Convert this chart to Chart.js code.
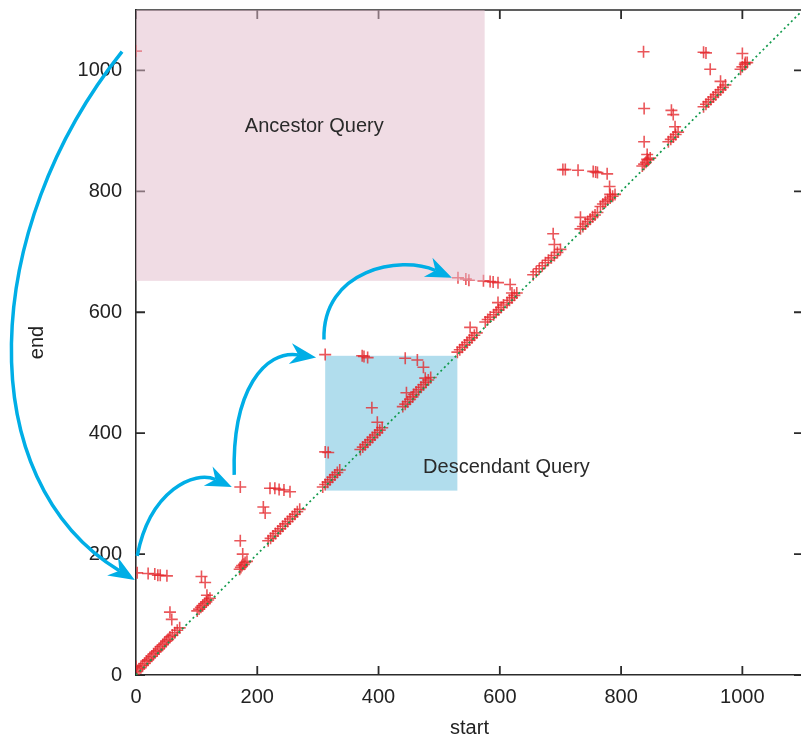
<!DOCTYPE html>
<html>
<head>
<meta charset="utf-8">
<script src="https://cdn.jsdelivr.net/npm/chart.js@4.4.0/dist/chart.umd.min.js"></script>
<style>
  html, body { margin: 0; padding: 0; background: #fff; overflow: hidden; }
  #wrap { width: 804px; height: 750px; }
</style>
</head>
<body>
<div id="wrap"><canvas id="chart" width="804" height="750"></canvas></div>
<script>
// node start positions (x) and end positions (y), same order
const startVals = [
  0,
  2, 20, 31, 36, 40, 51,
  0, 2, 5, 8, 11, 14, 17, 20, 23, 26, 29, 32, 35, 38, 41, 44, 47, 50, 53, 56, 60, 64, 68, 72,
  56, 59, 108, 114, 117,
  101, 104, 107, 110, 113, 116, 119, 122,
  171, 173, 175, 178, 180, 183, 172, 176, 172,
  221, 229, 236, 244, 254, 210, 213,
  218, 222, 226, 230, 234, 238, 242, 246, 250, 254, 258, 262, 266, 270,
  312, 373, 376, 382, 444, 464, 474, 477, 446,
  458, 462, 466, 470, 474, 478, 482, 486,
  440, 444, 448, 452, 456, 389, 398,
  370, 374, 378, 382, 386, 390, 394, 398, 402, 406,
  312, 317,
  308, 312, 316, 320, 324, 328, 332, 336,
  531, 544, 549, 573, 584, 589, 597, 617, 620, 597,
  612, 616, 620, 624, 628,
  590, 594, 598, 602, 606,
  576, 580, 584, 551,
  530, 534, 538, 542, 546, 550, 554, 558, 562,
  655, 660, 665, 670, 675, 680, 685, 690, 695, 700,
  688, 690, 704, 708, 729, 733,
  733, 737, 741, 745, 749, 753, 757, 761,
  754, 758, 761, 777, 781, 782,
  766, 770, 774, 778, 782, 786, 790,
  835, 838, 841, 845, 848, 843, 843,
  837, 838, 838,
  878, 882, 886, 890, 894, 883, 886, 889,
  936, 940, 947,
  936, 940, 944, 948, 952, 956, 960, 964, 968, 972, 964,
  1000, 1005, 997, 1000, 1004, 1008
];
const endVals = [
  1032,
  169, 168, 167, 165, 165, 164,
  14, 6, 10, 12, 16, 19, 23, 25, 28, 31, 35, 38, 40, 43, 47, 50, 53, 56, 59, 63, 66, 70, 74, 78,
  104, 92, 163, 153, 132,
  106, 109, 112, 115, 118, 121, 124, 127,
  175, 178, 181, 183, 186, 188, 222, 200, 311,
  309, 309, 307, 306, 303, 278, 268,
  222, 226, 230, 234, 238, 242, 246, 250, 254, 258, 262, 266, 270, 274,
  530, 528, 527, 525, 524, 521, 509, 491, 467,
  464, 468, 472, 476, 480, 484, 488, 492,
  444, 448, 452, 456, 460, 442, 418,
  373, 377, 381, 385, 389, 393, 397, 401, 405, 409,
  369, 368,
  311, 315, 319, 323, 327, 331, 335, 339,
  657, 655, 653, 652, 651, 650, 649, 646, 632, 616,
  616, 620, 624, 628, 632,
  596, 600, 604, 608, 612,
  584, 588, 592, 575,
  534, 538, 542, 546, 550, 554, 558, 562, 566,
  662, 667, 672, 677, 682, 686, 690, 694, 699, 704,
  730, 712, 836, 836, 835, 757,
  738, 742, 746, 750, 754, 758, 761, 765,
  833, 832, 831, 829, 808, 795,
  775, 779, 783, 786, 789, 792, 795,
  842, 845, 848, 852, 855, 861, 853,
  1031, 937, 882,
  882, 886, 890, 894, 898, 934, 927, 907,
  1030, 1029, 1002,
  940, 944, 948, 952, 956, 960, 964, 968, 972, 976, 982,
  1028, 1013, 1002, 1006, 1010, 1013
];

const tickValues = [0, 200, 400, 600, 800, 1000];
const axisMax = 1100;

// query regions, in (start, end) units
const ancestorBox = { x: [0, 575], y: [652, 1100], label: 'Ancestor Query', at: [294, 908] };
const descendantBox = { x: [312, 530], y: [305, 528], label: 'Descendant Query', at: [611, 343] };

// curved arrows: cubic bezier control points in (start, end) units
const arrowPaths = [
  [[-23, 1031], [-257, 737], [-274, 323], [-2, 157]],
  [[2, 197], [23, 306], [97, 339], [158, 311]],
  [[162, 331], [158, 472], [213, 538], [297, 525]],
  [[310, 555], [307, 671], [436, 695], [521, 657]]
];

const FONT = '"Liberation Sans", Arial, Helvetica, sans-serif';
const AXIS_COLOR = '#2b2b2b';

function boxRect(chart, box) {
  const { x, y } = chart.scales;
  const x0 = x.getPixelForValue(box.x[0]), x1 = x.getPixelForValue(box.x[1]);
  const y0 = y.getPixelForValue(box.y[1]), y1 = y.getPixelForValue(box.y[0]);
  return [x0, y0, x1 - x0, y1 - y0];
}

function drawArrow(ctx, pts) {
  const L = 26, W = 10.5, notch = 8;
  const [p0, p1, p2, p3] = pts;
  let dx = p3[0] - p2[0], dy = p3[1] - p2[1];
  const len = Math.hypot(dx, dy);
  dx /= len; dy /= len;
  const nx = -dy, ny = dx;
  const endX = p3[0] - dx * (L - notch), endY = p3[1] - dy * (L - notch);
  ctx.beginPath();
  ctx.moveTo(p0[0], p0[1]);
  ctx.bezierCurveTo(p1[0], p1[1], p2[0], p2[1], endX, endY);
  ctx.stroke();
  ctx.beginPath();
  ctx.moveTo(p3[0], p3[1]);
  ctx.lineTo(p3[0] - dx * L + nx * W, p3[1] - dy * L + ny * W);
  ctx.lineTo(p3[0] - dx * (L - notch), p3[1] - dy * (L - notch));
  ctx.lineTo(p3[0] - dx * L - nx * W, p3[1] - dy * L - ny * W);
  ctx.closePath();
  ctx.fill();
}

const decorPlugin = {
  id: 'decor',
  beforeDatasetsDraw(chart) {
    const { ctx, chartArea: a, scales: { x, y } } = chart;
    ctx.save();
    // descendant query region sits under the points
    ctx.fillStyle = 'rgba(60,170,210,0.40)';
    ctx.fillRect(...boxRect(chart, descendantBox));
    // top / right frame and inward ticks
    ctx.strokeStyle = AXIS_COLOR;
    ctx.lineWidth = 1.6;
    ctx.beginPath();
    ctx.moveTo(a.left, a.top); ctx.lineTo(a.right, a.top); ctx.lineTo(a.right, a.bottom);
    ctx.stroke();
    ctx.lineWidth = 1.8;
    ctx.beginPath();
    tickValues.forEach(v => {
      const px = x.getPixelForValue(v), py = y.getPixelForValue(v);
      ctx.moveTo(px, a.bottom); ctx.lineTo(px, a.bottom - 9);
      ctx.moveTo(px, a.top); ctx.lineTo(px, a.top + 9);
      ctx.moveTo(a.left, py); ctx.lineTo(a.left + 9, py);
      ctx.moveTo(a.right, py); ctx.lineTo(a.right - 9, py);
    });
    ctx.stroke();
    ctx.restore();
  },
  afterDatasetsDraw(chart) {
    const { ctx, scales: { x, y } } = chart;
    ctx.save();
    // ancestor query region is laid over the frame
    ctx.fillStyle = 'rgba(226,186,202,0.51)';
    ctx.fillRect(...boxRect(chart, ancestorBox));

    ctx.fillStyle = '#2a2a2a';
    ctx.font = '20px ' + FONT;
    ctx.textAlign = 'center';
    ctx.textBaseline = 'middle';
    [ancestorBox, descendantBox].forEach(b => {
      ctx.fillText(b.label, x.getPixelForValue(b.at[0]), y.getPixelForValue(b.at[1]));
    });

    ctx.strokeStyle = '#00aee6';
    ctx.fillStyle = '#00aee6';
    ctx.lineWidth = 3.5;
    ctx.lineCap = 'butt';
    arrowPaths.forEach(path => {
      drawArrow(ctx, path.map(p => [x.getPixelForValue(p[0]), y.getPixelForValue(p[1])]));
    });
    ctx.restore();
  }
};

// no extra label padding: the plot frame is pinned by layout padding
function pinScale(s) {
  s.paddingTop = 0; s.paddingBottom = 0; s.paddingLeft = 0; s.paddingRight = 0;
}

const points = startVals.map((s, i) => ({ x: s, y: endVals[i] }));

new Chart(document.getElementById('chart'), {
  type: 'scatter',
  data: {
    datasets: [
      {
        label: 'start = end',
        data: [{ x: 0, y: 0 }, { x: axisMax, y: axisMax }],
        showLine: true,
        borderColor: '#129a4c',
        borderWidth: 1.7,
        borderDash: [2, 3],
        pointRadius: 0
      },
      {
        label: 'nodes',
        data: points,
        pointStyle: 'cross',
        pointRadius: 6,
        borderColor: 'rgba(228,38,44,0.78)',
        borderWidth: 1.6,
        backgroundColor: 'rgba(228,38,44,0.78)'
      }
    ]
  },
  options: {
    responsive: false,
    animation: false,
    layout: { autoPadding: false, padding: { top: 10, right: 1, left: 0, bottom: 0 } },
    plugins: { legend: { display: false }, tooltip: { enabled: false } },
    scales: {
      x: {
        type: 'linear',
        min: 0,
        max: axisMax,
        afterBuildTicks: s => { s.ticks = tickValues.map(v => ({ value: v })); },
        afterFit: s => { s.height = 75; pinScale(s); },
        grid: { display: true, drawOnChartArea: false, drawTicks: false },
        border: { display: true, color: AXIS_COLOR, width: 1.6 },
        ticks: { padding: 10, color: '#222', autoSkip: false, maxRotation: 0, callback: v => String(v), font: { family: FONT, size: 20 } },
        title: { display: true, text: 'start', color: '#222', font: { family: FONT, size: 20 }, padding: { top: 0, bottom: 10 } }
      },
      y: {
        type: 'linear',
        min: 0,
        max: axisMax,
        afterBuildTicks: s => { s.ticks = tickValues.map(v => ({ value: v })); },
        afterFit: s => { s.width = 136; pinScale(s); },
        grid: { display: true, drawOnChartArea: false, drawTicks: false },
        border: { display: true, color: AXIS_COLOR, width: 1.6 },
        ticks: { padding: 14, color: '#222', autoSkip: false, callback: v => String(v), font: { family: FONT, size: 20 } },
        title: { display: true, text: 'end', color: '#222', font: { family: FONT, size: 20 }, padding: { top: 25, bottom: 0 } }
      }
    }
  },
  plugins: [decorPlugin]
});
</script>
</body>
</html>
